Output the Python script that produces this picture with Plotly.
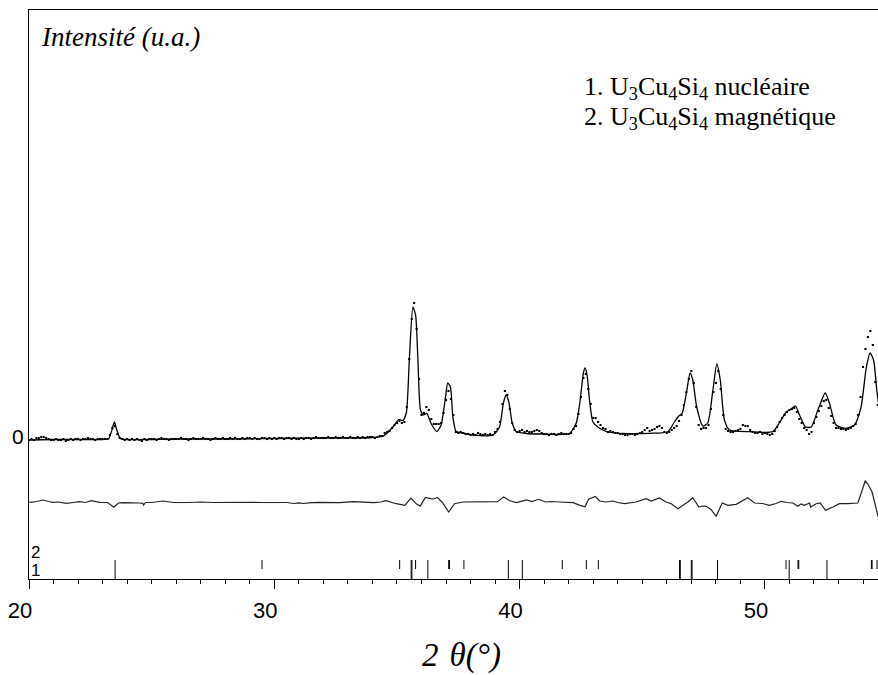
import plotly.graph_objects as go

# ---------------- data ----------------
# calculated profile (2theta, intensity u.a.)
calc_x = [20.0, 21.0, 22.0, 23.0, 23.25, 23.38, 23.48, 23.58, 23.72, 24.0, 26.0, 28.0, 30.0, 32.0, 33.0, 34.0, 34.4,
          34.56, 34.83, 35.08, 35.24, 35.38, 35.51, 35.65, 35.76, 35.85, 35.96, 36.08, 36.22, 36.39, 36.63, 36.80,
          36.98, 37.07, 37.18, 37.28, 37.41, 37.69, 38.09, 38.91, 39.18, 39.34, 39.45, 39.56, 39.70, 39.86, 40.27,
          40.81, 42.03, 42.31, 42.47, 42.60, 42.67, 42.75, 42.85, 42.99, 43.19, 43.53, 44.07, 45.30, 46.04, 46.31,
          46.49, 46.63, 46.82, 46.95, 47.06, 47.22, 47.47, 47.67, 47.88, 48.04, 48.18, 48.35, 48.56, 49.37, 50.32,
          50.59, 50.87, 51.07, 51.25, 51.41, 51.66, 51.89, 52.16, 52.46, 52.63, 52.90, 53.31, 53.65, 53.92, 54.13,
          54.29, 54.43, 54.56, 54.62]
calc_y = [-3, -2.5, -2.5, -2.5, -1.5, 7, 15, 7, -1.5, -2.5, -2, -2, -1.5, -1, -1, -0.5, 0.5,
          3, 10, 17.5, 16.5, 24, 80, 130, 122, 80, 27, 22, 23.5, 13.5, 5.5, 12,
          40, 54, 50, 20, 5.5, 4, 2, 2, 10, 34, 42, 35, 14, 5.5, 3.5,
          3, 3.5, 14, 37, 64, 69, 62, 37, 15, 10, 5.5, 3.7, 3.7, 5.3, 15,
          21, 24, 47, 64, 57, 30, 11, 14, 47, 73, 57, 17, 7, 5.3, 5.3,
          14, 25, 28, 31, 22, 10, 10, 27, 44, 34, 12, 8.7, 12, 30, 69,
          84, 77, 47, 35]

# observed points, one every 0.1 deg from 20.0
obs_start = 20.0
obs_step = 0.1
obs_y = [
    -3, -2, -3, -1, -1, 0, 0, -1, -2, -3,        # 20
    -3, -2, -3, -3, -2, -4, -3, -2, -3, -2,      # 21
    -2, -3, -2, -2, -1, -2, -2, -3, -2, -2,      # 22
    -2, -2, -2, 2, 9, 11, 3, -1, -2, -3,         # 23
    -2, -3, -2, -3, -2, -3, -4, -2, -3, -2,      # 24
    -2, -2, -3, -2, -1, -2, -2, -3, -2, -2,      # 25
    -2, -2, -1, -2, -2, -3, -2, -1, -2, -2,      # 26
    -2, -1, -2, -2, -3, -2, -1, -2, -2, -1,      # 27
    -2, -2, -1, -2, -1, -2, -2, -1, -2, -1,      # 28
    -1, -2, -1, -2, -2, -1, -1, -2, -1, -2,      # 29
    -1, -2, -1, -1, -2, -1, -1, -2, -1, -2,      # 30
    -2, -1, -2, -1, -1, -2, -1, 0, -1, -1,       # 31
    -1, -1, 0, -1, -1, 0, -1, -1, 0, -1,         # 32
    -1, 0, -1, -1, 0, -1, 0, -1, 0, 0,           # 33
    0, -1, 0, 1, 1, 4, 5, 6, 9, 12,              # 34
    14, 16, 14, 15, 30, 78, 118, 134, 108, 58,   # 35
    22, 24, 30, 27, 18, 13, 13, 13, 14, 24,      # 36
    37, 46, 38, 22, 5, 4, 5, 4, 3, 3,            # 37
    2, 3, 2, 4, 3, 2, 3, 2, 3, 2,                # 38
    5, 8, 15, 33, 46, 42, 28, 14, 7, 5,          # 39
    6, 7, 5, 6, 5, 5, 6, 7, 6, 4,                # 40
    3, 3, 2, 3, 3, 2, 3, 4, 3, 3,                # 41
    3, 4, 8, 11, 23, 40, 59, 63, 48, 33,         # 42
    19, 19, 15, 12, 9, 8, 5, 6, 5, 4,            # 43
    4, 3, 3, 2, 2, 3, 3, 2, 3, 4,                # 44
    5, 7, 9, 6, 7, 8, 10, 11, 9, 5,              # 45
    4, 5, 7, 9, 11, 16, 22, 32, 45, 58,          # 46
    66, 54, 30, 12, 8, 9, 9, 12, 28, 45,         # 47
    54, 66, 48, 22, 8, 6, 5, 5, 6, 7,            # 48
    8, 12, 11, 11, 7, 5, 4, 4, 5, 3,             # 49
    4, 3, 2, 3, 6, 10, 15, 19, 22, 25,           # 50
    27, 28, 29, 25, 18, 14, 9, 7, 3, 5,          # 51
    14, 20, 26, 31, 36, 37, 29, 21, 14, 9,       # 52
    9, 8, 8, 7, 8, 9, 11, 13, 22, 40,            # 53
    70, 88, 100, 106, 92, 55, 32,                # 54
]

# difference curve (obs - calc, shifted)
diff_x = [20.0, 20.09, 20.3, 20.57, 20.8, 20.97, 21.2, 21.52, 21.8, 22.06, 22.3, 22.54, 22.88, 23.2, 23.46, 23.65,
          23.83, 24.2, 24.5, 24.64, 24.67, 24.75, 25.0, 25.46, 25.9, 26.5, 27.0, 27.5, 28.0, 28.5, 29.0, 29.5,
          30.0, 30.5, 30.8, 31.0, 31.2, 31.4, 31.8, 32.2, 32.66, 33.22, 33.6, 34.06, 34.34, 34.55, 34.97, 35.32,
          35.57, 35.77, 35.95, 36.16, 36.37, 36.5, 36.65, 36.86, 37.11, 37.35, 37.70, 38.1, 38.54, 39.10, 39.35,
          39.6, 39.87, 40.29, 40.5, 40.78, 41.06, 41.3, 41.62, 41.9, 42.18, 42.46, 42.67, 42.81, 43.09, 43.26,
          43.53, 43.80, 44.0, 44.28, 44.62, 44.75, 45.16, 45.36, 45.70, 45.97, 46.2, 46.45, 46.86, 47.06, 47.31,
          47.45, 47.61, 47.81, 48.01, 48.26, 48.49, 48.83, 49.30, 49.58, 49.9, 50.19, 50.45, 50.66, 50.9, 51.14,
          51.34, 51.47, 51.61, 51.82, 51.86, 52.09, 52.25, 52.47, 52.77, 53.04, 53.38, 53.79, 54.09, 54.2, 54.37,
          54.56, 54.62]
diff_y = [-65, -65.3, -64.5, -63, -64.5, -65.3, -65, -66.3, -65.5, -64.7, -65.5, -63.7, -65.3, -65.5, -70.3, -66,
          -65.7, -65.5, -66, -66.3, -68, -65.5, -65.5, -64, -65.5, -65.5, -65, -65.5, -65.3, -65.8, -65.3, -65.5,
          -65.3, -65.5, -66.5, -65.8, -66.5, -65.8, -65.3, -65.6, -65.7, -64.7, -65.3, -65.7, -65, -63.6, -66.7, -68.4,
          -61.2, -66.4, -69.1, -60.5, -61.6, -62, -60.5, -65.7, -75, -66.7, -65, -64.7, -64.7, -64.7, -59.9,
          -63.8, -65.7, -62.9, -64.5, -62.3, -65, -64.5, -65, -65.2, -65.7, -68.4, -69.8, -62.3, -59.5, -64,
          -65, -64, -65.5, -66.7, -66, -65, -61.7, -64, -61, -65, -67, -71.7, -65, -60.7, -70,
          -69, -69.3, -72.7, -79.3, -66, -68.3, -67.3, -60.7, -66, -66.5, -68.3, -66.5, -64.3, -65.5, -66,
          -69.3, -67, -68.3, -66, -70, -66.7, -66, -73.3, -70, -66.7, -66.7, -66, -44, -47, -55,
          -76.7, -80]

# Bragg positions
phase1_pos = [23.51, 35.58, 35.61, 36.26, 39.54, 40.11, 46.52, 46.55, 47.00, 47.03, 48.07, 50.99, 52.53]
phase2_pos = [23.51, 29.50, 35.11, 35.58, 35.61, 35.76, 36.26, 37.11, 37.14, 37.73, 39.54, 40.11, 41.74,
              42.72, 43.21, 46.52, 46.55, 47.00, 47.03, 48.07, 50.86, 50.99, 51.35, 51.38, 52.53, 54.34,
              54.37, 54.57]

phase_labels = ["1", "2"]
legend_lines = ["1. U<sub>3</sub>Cu<sub>4</sub>Si<sub>4</sub> nucléaire",
                "2. U<sub>3</sub>Cu<sub>4</sub>Si<sub>4</sub> magnétique"]
y_title = "Intensité (u.a.)"
x_title = "2\u2004θ(°)"

# ---------------- figure ----------------
obs_x = [round(obs_start + obs_step * i, 2) for i in range(len(obs_y))]

SERIF = "Liberation Serif, Times New Roman, serif"
SANS = "Liberation Sans, Arial, sans-serif"

fig = go.Figure()

fig.add_trace(go.Scatter(x=calc_x, y=calc_y, mode="lines",
                         line=dict(color="black", width=1.3, shape="spline", smoothing=0.6),
                         hoverinfo="skip"))
fig.add_trace(go.Scatter(x=obs_x, y=obs_y, mode="markers",
                         marker=dict(color="black", size=2.1, symbol="square", line=dict(width=0)),
                         hoverinfo="skip"))
fig.add_trace(go.Scatter(x=diff_x, y=diff_y, mode="lines",
                         line=dict(color="#222", width=1.2), hoverinfo="skip", xaxis="x4"))


def tick_trace(positions, y0, y1, axis):
    xs, ys = [], []
    for p in positions:
        xs += [p, p, None]
        ys += [y0, y1, None]
    return go.Scatter(x=xs, y=ys, mode="lines", line=dict(color="black", width=1),
                      hoverinfo="skip", xaxis=axis)


ROW1 = (-142, -132)
ROW2 = (-132, -123)
fig.add_trace(tick_trace(phase1_pos, *ROW1, "x2"))
fig.add_trace(tick_trace(phase2_pos, *ROW2, "x3"))

L, R, T, B = 29, 0, 10, 96
W, H = 878, 675
pw, ph = W - L - R, H - T - B
XR = [20, 20 + pw / 24.53]


def px(xp):
    return (xp - L) / pw


def py(yp):
    return (H - B - yp) / ph


ann = []
ann.append(dict(text=y_title, x=px(39), y=py(37), xref="paper", yref="paper", xanchor="left",
                yanchor="middle", showarrow=False,
                font=dict(family=SERIF, size=27, color="black", style="italic")))
ann.append(dict(text=legend_lines[0], x=px(582), y=py(88), xref="paper", yref="paper", xanchor="left",
                yanchor="middle", showarrow=False, font=dict(family=SERIF, size=26, color="black")))
ann.append(dict(text=legend_lines[1], x=px(582), y=py(117.5), xref="paper", yref="paper", xanchor="left",
                yanchor="middle", showarrow=False, font=dict(family=SERIF, size=26, color="black")))
ann.append(dict(text=phase_labels[1], x=px(35.5), y=py(552), xref="paper", yref="paper", xanchor="center",
                yanchor="middle", showarrow=False, font=dict(family=SANS, size=17, color="black")))
ann.append(dict(text=phase_labels[0], x=px(35.5), y=py(570), xref="paper", yref="paper", xanchor="center",
                yanchor="middle", showarrow=False, font=dict(family=SANS, size=17, color="black")))
ann.append(dict(text=x_title, x=px(462), y=py(655), xref="paper", yref="paper", xanchor="center",
                yanchor="middle", showarrow=False,
                font=dict(family=SERIF, size=33, color="black", style="italic")))

fig.update_layout(
    width=W, height=H,
    margin=dict(l=L, r=R, t=T, b=B),
    paper_bgcolor="white", plot_bgcolor="white",
    showlegend=False,
    annotations=ann,
    # main axis: line and labels
    xaxis=dict(range=XR, showgrid=False, zeroline=False,
               showline=True, linecolor="black", linewidth=1, mirror=False,
               tickmode="linear", tick0=20, dtick=10,
               ticks="outside", ticklen=9, tickwidth=1.2, tickcolor="black",
               tickfont=dict(family=SANS, size=22, color="black"),
               ticklabelshift=-9, ticklabelstandoff=3),
    # minor ticks every degree
    xaxis2=dict(range=XR, overlaying="x", anchor="y", side="bottom", matches="x",
                showgrid=False, zeroline=False, showline=False,
                tickmode="linear", tick0=20, dtick=1,
                ticks="outside", ticklen=4, tickwidth=1.2, tickcolor="black",
                showticklabels=False),
    # top frame line
    xaxis3=dict(range=XR, overlaying="x", anchor="y", side="top", matches="x",
                showgrid=False, zeroline=False, showline=True, linecolor="black", linewidth=1,
                ticks="", showticklabels=False),
    # major ticks every 10 degrees
    xaxis4=dict(range=XR, overlaying="x", anchor="y", side="bottom", matches="x",
                showgrid=False, zeroline=False, showline=False,
                tickmode="linear", tick0=20, dtick=10,
                ticks="outside", ticklen=9, tickwidth=1.2, tickcolor="black",
                showticklabels=False),
    yaxis=dict(range=[-142, 427], showgrid=False, zeroline=False,
               showline=True, linecolor="black", linewidth=1, mirror=False,
               ticks="", tickvals=[0], ticktext=["0"],
               tickfont=dict(family=SANS, size=21, color="black")),
)

fig.write_html("out.html")
